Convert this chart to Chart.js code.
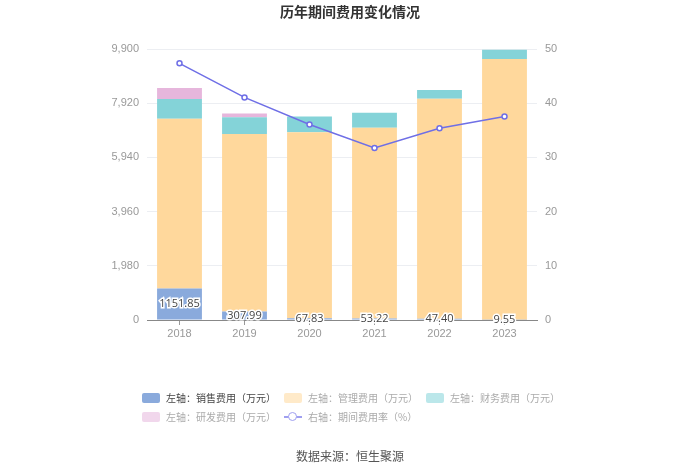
<!DOCTYPE html>
<html>
<head>
<meta charset="utf-8">
<script src="https://cdn.jsdelivr.net/npm/chart.js@4/dist/chart.umd.min.js"></script>
<style>
  body { margin: 0; background: #fff; font-family: 'Open Sans', 'Noto Sans CJK SC', sans-serif; }
  #wrap { position: relative; width: 700px; height: 473px; overflow: hidden; }
  #title { position: absolute; top: 1px; left: 0; width: 700px; text-align: center;
           font: bold 14px 'Noto Sans CJK SC', sans-serif; color: #333; }
  #legend { position: absolute; top: 388px; left: 142px; width: 450px; font-size: 10px;
            font-family: 'Noto Sans CJK SC', sans-serif; }
  .item { display: inline-block; width: 142px; height: 19px; line-height: 19px; white-space: nowrap; color: #aaa; }
  .item.on { color: #444; }
  .sw { display: inline-block; width: 18px; height: 10px; border-radius: 2px; vertical-align: -1px; margin-right: 6px; }
  .ln { display: inline-block; width: 18px; height: 10px; vertical-align: -1px; margin-right: 6px; position: relative; }
  .ln:before { content: ''; position: absolute; left: 0; right: 0; top: 4px; height: 1.5px; background: #9f9ff0; }
  .ln:after { content: ''; position: absolute; left: 4px; top: 0; width: 7px; height: 7px; border: 1.5px solid #9f9ff0;
              border-radius: 50%; background: #fff; }
  #source { position: absolute; top: 447px; left: 0; width: 700px; text-align: center; font-size: 12px;
            color: #555; font-family: 'Noto Sans CJK SC', sans-serif; }
</style>
</head>
<body>
<div id="wrap">
  <canvas id="c" width="700" height="473"></canvas>
  <div id="title">历年期间费用变化情况</div>
  <div id="legend"></div>
  <div id="source">数据来源：恒生聚源</div>
</div>
<script>
// values (万元 / %)
var years = ['2018', '2019', '2020', '2021', '2022', '2023'];
var sales = [1151.85, 307.99, 67.83, 53.22, 47.40, 9.55];
var admin = [6196, 6491, 6793, 6966, 8034, 9525];
var finance = [722, 611, 575, 549, 318, 341];
var rnd = [403, 136, 0, 0, 0, 0];
var rate = [47.36, 41.07, 36.07, 31.75, 35.39, 37.55];
var leftTicks = [0, 1980, 3960, 5940, 7920, 9900];

var names = ['左轴：销售费用（万元）', '左轴：管理费用（万元）', '左轴：财务费用（万元）',
             '左轴：研发费用（万元）', '右轴：期间费用率（%）'];
var colors = ['#8aaadc', '#ffd89c', '#84d3d8', '#e6b6dc', '#6f6fe6'];

// html legend, first item highlighted like the reference
var lg = document.getElementById('legend');
names.forEach(function(n, i) {
  var el = document.createElement('span');
  el.className = 'item' + (i === 0 ? ' on' : '');
  var icon = i === 4 ? '<span class="ln"></span>'
    : '<span class="sw" style="background:' + colors[i] + ';opacity:' + (i === 0 ? 1 : 0.55) + '"></span>';
  el.innerHTML = icon + n;
  lg.appendChild(el);
});

// value labels for the sales segment
var salesLabels = {
  id: 'salesLabels',
  afterDatasetsDraw: function(chart) {
    var ctx = chart.ctx;
    var meta = chart.getDatasetMeta(0);
    ctx.save();
    ctx.font = '11px "Open Sans", sans-serif';
    ctx.textAlign = 'center';
    ctx.textBaseline = 'middle';
    ctx.lineWidth = 3;
    ctx.strokeStyle = '#fff';
    ctx.fillStyle = '#444';
    meta.data.forEach(function(bar, i) {
      var txt = sales[i].toFixed(2);
      var y = (bar.y + bar.base) / 2;
      ctx.strokeText(txt, bar.x, y);
      ctx.fillText(txt, bar.x, y);
    });
    ctx.restore();
  }
};

function barSet(label, data, color) {
  return { type: 'bar', label: label, data: data, backgroundColor: color, yAxisID: 'y',
           stack: 's', barPercentage: 0.69, categoryPercentage: 1, order: 2 };
}

new Chart(document.getElementById('c'), {
  data: {
    labels: years,
    datasets: [
      barSet(names[0], sales, colors[0]),
      barSet(names[1], admin, colors[1]),
      barSet(names[2], finance, colors[2]),
      barSet(names[3], rnd, colors[3]),
      { type: 'line', label: names[4], data: rate, yAxisID: 'y1', borderColor: colors[4],
        borderWidth: 1.5, pointRadius: 2.5, pointBackgroundColor: '#fff', pointBorderColor: colors[4],
        pointBorderWidth: 1.5, tension: 0, order: 1 }
    ]
  },
  plugins: [salesLabels],
  options: {
    responsive: false,
    animation: false,
    layout: { padding: { top: 49, left: 0, right: 0, bottom: 0 } },
    plugins: { legend: { display: false }, title: { display: false }, tooltip: { enabled: false } },
    scales: {
      x: {
        stacked: true,
        afterFit: function(s) { s.height = 153; },
        grid: { display: true, drawOnChartArea: false, offset: false, tickLength: 5, color: '#999' },
        border: { display: true, color: '#888' },
        ticks: { color: '#999', font: { size: 11 }, padding: 2 }
      },
      y: {
        stacked: true, min: 0, max: 9900,
        afterFit: function(s) { s.width = 147; },
        afterBuildTicks: function(s) { s.ticks = leftTicks.map(function(v) { return { value: v }; }); },
        grid: { color: '#eceef2', drawTicks: false },
        border: { display: false },
        ticks: { color: '#999', font: { size: 11 }, padding: 8,
                 callback: function(v) { return v.toLocaleString('en-US'); } }
      },
      y1: {
        position: 'right', min: 0, max: 50,
        afterFit: function(s) { s.width = 163; },
        ticks: { stepSize: 10, color: '#999', font: { size: 11 }, padding: 0 },
        grid: { display: false },
        border: { display: false }
      }
    }
  }
});
</script>
</body>
</html>
